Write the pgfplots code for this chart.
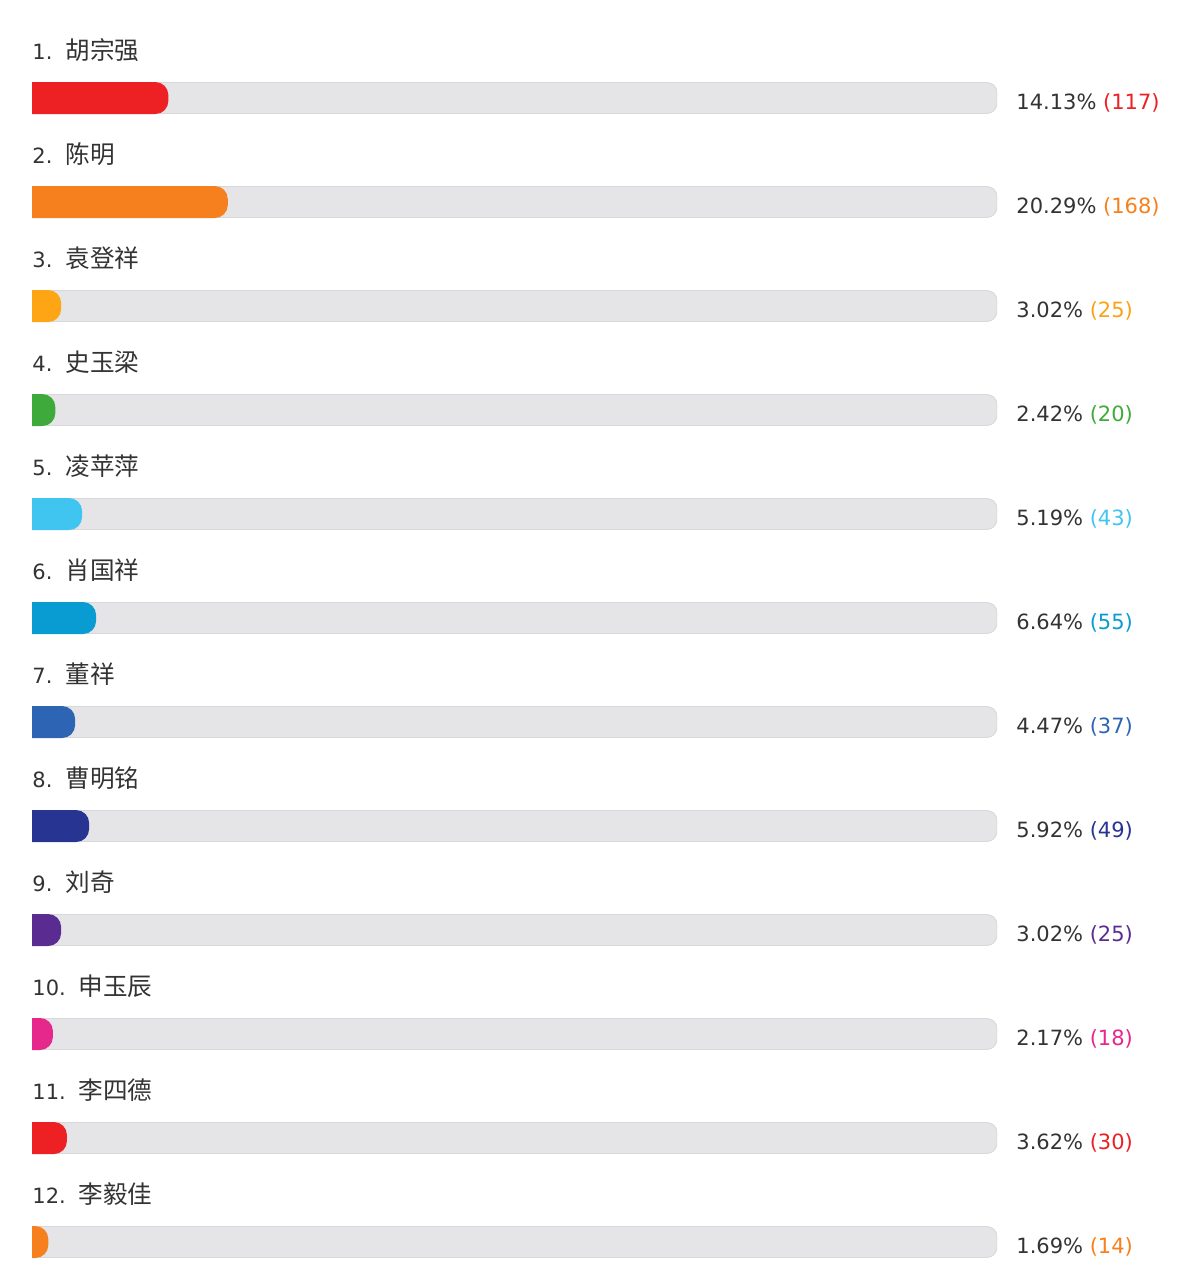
\documentclass[border=0pt]{standalone}
\usepackage{fontspec}
\setmainfont{DejaVu Sans}
\newfontfamily\cjk{Noto Sans CJK SC}
\usepackage{pgfplots}
\pgfplotsset{compat=1.18}

\definecolor{cA}{RGB}{237,32,36}
\definecolor{cB}{RGB}{247,128,30}
\definecolor{cC}{RGB}{253,165,20}
\definecolor{cD}{RGB}{62,170,60}
\definecolor{cE}{RGB}{64,196,240}
\definecolor{cF}{RGB}{8,156,210}
\definecolor{cG}{RGB}{46,100,180}
\definecolor{cH}{RGB}{40,52,145}
\definecolor{cI}{RGB}{90,44,145}
\definecolor{cJ}{RGB}{230,40,140}
\definecolor{txt}{RGB}{51,51,51}
\definecolor{track}{RGB}{229,229,231}
\definecolor{trackedge}{RGB}{216,216,218}

% one row = 104px = 52pt ; 1px = 0.5pt ; 1 unit = 4.825pt
\pgfplotsset{
  rowaxis/.style={
    scale only axis, width=482.5pt, height=613.6pt,
    xmin=0, xmax=100, ymin=0.5, ymax=12.3, y dir=reverse,
    xtick=\empty, ytick={1,...,12},
    major tick length=0pt,
    axis line style={draw=none},
  },
  % bars start 4 units left of the axis, so their left corners are clipped
  bar/.style={draw=none, bar shift=0pt, rounded corners=6.5pt, xshift=-19.3pt},
}
\newcommand{\nm}[2]{#1.\hspace{6.5pt}{\cjk\fontsize{12.3}{14}\selectfont #2}}
\newcommand{\pc}[3]{#1\% \textcolor{#3}{(#2)}}

\begin{document}
\begin{tikzpicture}
\begin{axis}[
  rowaxis,
  name=main,
  at={(16pt,-23pt)}, anchor=north west,
  yticklabels={\nm{1}{胡宗强},\nm{2}{陈明},\nm{3}{袁登祥},\nm{4}{史玉梁},
    \nm{5}{凌苹萍},\nm{6}{肖国祥},\nm{7}{董祥},\nm{8}{曹明铭},
    \nm{9}{刘奇},\nm{10}{申玉辰},\nm{11}{李四德},\nm{12}{李毅佳}},
  yticklabel style={anchor=west, inner sep=0pt, yshift=24pt,
    font=\fontsize{10.5}{12}\selectfont, text=txt},
  xbar, bar width=16pt,
  x filter/.expression={x+4},
]
% grey tracks
\addplot[bar, rounded corners=5pt, bar width=15.5pt, fill=track,
  draw=trackedge, line width=0.4pt]
  coordinates {(100,1) (100,2) (100,3) (100,4) (100,5) (100,6)
               (100,7) (100,8) (100,9) (100,10) (100,11) (100,12)};
% shares (%)
\addplot[bar, fill=cA] coordinates {(14.13,1)};
\addplot[bar, fill=cB] coordinates {(20.29,2)};
\addplot[bar, fill=cC] coordinates {(3.02,3)};
\addplot[bar, fill=cD] coordinates {(2.42,4)};
\addplot[bar, fill=cE] coordinates {(5.19,5)};
\addplot[bar, fill=cF] coordinates {(6.64,6)};
\addplot[bar, fill=cG] coordinates {(4.47,7)};
\addplot[bar, fill=cH] coordinates {(5.92,8)};
\addplot[bar, fill=cI] coordinates {(3.02,9)};
\addplot[bar, fill=cJ] coordinates {(2.17,10)};
\addplot[bar, fill=cA] coordinates {(3.62,11)};
\addplot[bar, fill=cB] coordinates {(1.69,12)};
\end{axis}

\begin{axis}[
  rowaxis,
  at={(main.north west)}, anchor=north west,
  yticklabel pos=right,
  yticklabels={\pc{14.13}{117}{cA},\pc{20.29}{168}{cB},\pc{3.02}{25}{cC!90!cB},
    \pc{2.42}{20}{cD},\pc{5.19}{43}{cE},\pc{6.64}{55}{cF},\pc{4.47}{37}{cG},
    \pc{5.92}{49}{cH},\pc{3.02}{25}{cI},\pc{2.17}{18}{cJ},\pc{3.62}{30}{cA},
    \pc{1.69}{14}{cB}},
  yticklabel style={anchor=west, inner sep=0pt, xshift=9.5pt, yshift=-2.5pt,
    font=\fontsize{10.5}{12}\selectfont, text=txt},
]
\end{axis}
\pgfresetboundingbox
\path (0,0) rectangle (602pt,-640pt);
\end{tikzpicture}
\end{document}
